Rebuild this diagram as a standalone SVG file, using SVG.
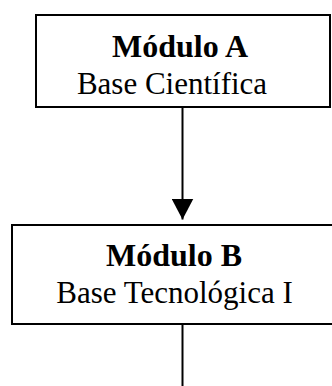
<svg xmlns="http://www.w3.org/2000/svg" width="332" height="386" viewBox="0 0 332 386">
<defs>
<style>
.box{fill:#fff;stroke:#000;stroke-width:2}
.t{font-family:"Liberation Serif","Times New Roman",serif;font-size:31px;fill:#000;text-anchor:middle}
.b{font-weight:bold;font-size:32px}
.c{stroke:#000;stroke-width:2;fill:none}
</style>
<marker id="ah" markerUnits="userSpaceOnUse" markerWidth="21" markerHeight="22" refX="21" refY="11" orient="auto">
<path d="M0,0 L21,11 L0,22 Z" fill="#000"/>
</marker>
</defs>
<g id="nodeA">
<rect class="box" x="36" y="15" width="294" height="92"/>
<text class="t b" x="180" y="57">Módulo A</text>
<text class="t" x="172" y="94">Base Científica</text>
</g>
<g id="nodeB">
<rect class="box" x="12" y="225" width="324" height="99"/>
<text class="t b" x="174" y="266">Módulo B</text>
<text class="t" x="174.5" y="303">Base Tecnológica I</text>
</g>
<g id="connectors">
<line class="c" x1="182.5" y1="107" x2="182.5" y2="219.5" marker-end="url(#ah)"/>
<line class="c" x1="182.5" y1="324" x2="182.5" y2="386"/>
</g>
</svg>
